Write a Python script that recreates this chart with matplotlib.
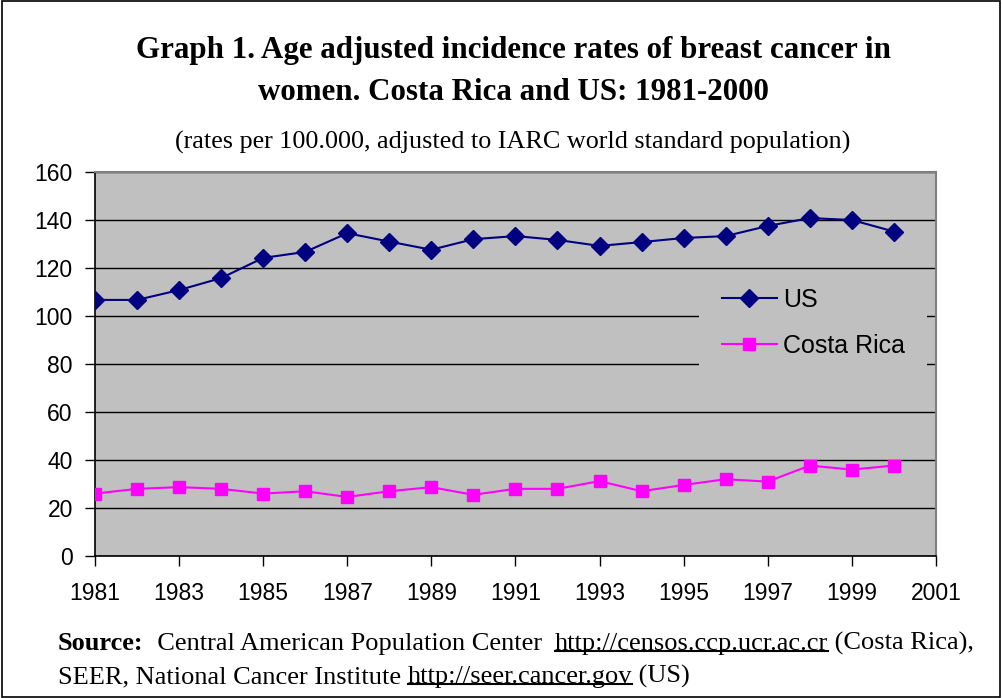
import matplotlib
matplotlib.use("Agg")
import matplotlib.pyplot as plt
from matplotlib.lines import Line2D
from matplotlib.patches import Rectangle

# ── Data ──
years = [1981, 1982, 1983, 1984, 1985, 1986, 1987, 1988, 1989, 1990,
         1991, 1992, 1993, 1994, 1995, 1996, 1997, 1998, 1999, 2000]
us_rates = [106.7, 106.7, 110.8, 115.8, 124.2, 126.7, 134.5, 131.0, 127.6, 132.0,
            133.3, 131.7, 129.2, 130.8, 132.5, 133.3, 137.5, 140.8, 140.0, 135.2]
cr_rates = [26.0, 28.0, 28.7, 28.0, 26.0, 27.0, 24.6, 27.0, 28.7, 25.5,
            28.0, 28.0, 31.2, 27.0, 29.6, 32.0, 31.0, 37.7, 36.0, 37.7]
x_ticks = list(range(1981, 2002, 2))
y_ticks = list(range(0, 161, 20))

SANS = "Liberation Sans"
SERIF = "Liberation Serif"

fig = plt.figure(figsize=(10.02, 6.98), dpi=100)
fig.patches.append(Rectangle((0.002, 0.002), 0.996, 0.996, transform=fig.transFigure,
                             fill=False, edgecolor="black", linewidth=1.2))

ax = fig.add_axes([0.0948, 0.2034, 0.8392, 0.5502])
ax.set_facecolor("#C0C0C0")

ax.plot(years, us_rates, color="#000080", linewidth=1.5, marker="D",
        markersize=9.5, label="US", zorder=3)
ax.plot(years, cr_rates, color="#FF00FF", linewidth=1.5, marker="s",
        markersize=8.5, label="Costa Rica", zorder=3)

ax.set_xlim(1981, 2001)
ax.set_ylim(0, 160)
ax.set_xticks(x_ticks)
ax.set_yticks(y_ticks)
ax.yaxis.grid(True, color="black", linewidth=1.0)
ax.set_axisbelow(True)
ax.tick_params(direction="out", length=7, width=1, labelsize=16.5)
ax.tick_params(axis="y", pad=9)
ax.tick_params(axis="x", pad=12)
for lab in ax.get_xticklabels() + ax.get_yticklabels():
    lab.set_family(SANS)
for side in ["top", "right"]:
    ax.spines[side].set_color("#808080")
    ax.spines[side].set_linewidth(1.5)
ax.spines["left"].set_linewidth(1.2)
ax.spines["bottom"].set_linewidth(1.2)

# legend background box covering the grid lines (Excel style)
ax.add_patch(Rectangle((0.718, 0.479), 0.272, 0.261, transform=ax.transAxes,
                       facecolor="#C0C0C0", edgecolor="none", zorder=1))
ax.legend(loc="upper left", bbox_to_anchor=(0.7455, 0.699), frameon=False,
          prop={"family": SANS, "size": 18}, handlelength=2.2, handletextpad=0.25,
          borderpad=0, borderaxespad=0, labelspacing=0.9)

# ── Titles ──
fig.text(0.512, 0.928, "Graph 1. Age adjusted incidence rates of breast cancer in",
         ha="center", va="center", family=SERIF, fontweight="bold", fontsize=22.3)
fig.text(0.512, 0.868, "women. Costa Rica and US: 1981-2000",
         ha="center", va="center", family=SERIF, fontweight="bold", fontsize=22.3)
fig.text(0.512, 0.796, "(rates per 100.000, adjusted to IARC world standard population)",
         ha="center", va="center", family=SERIF, fontsize=18.8)

# ── Source note with underlined links ──
line1 = [("Source:", "bold", False), ("  Central American Population Center  ", "normal", False),
         ("http://censos.ccp.ucr.ac.cr", "normal", True), (" (Costa Rica),", "normal", False)]
line2 = [("SEER, National Cancer Institute ", "normal", False),
         ("http://seer.cancer.gov", "normal", True), (" (US)", "normal", False)]

underlined = []
for parts, ypos in [(line1, 0.069), (line2, 0.021)]:
    prev = None
    for txt, weight, ul in parts:
        if prev is None:
            t = fig.text(0.058, ypos, txt, ha="left", va="baseline", family=SERIF,
                         fontweight=weight, fontsize=19)
        else:
            t = ax.annotate(txt, xy=(1, 0), xycoords=prev, ha="left", va="bottom",
                            family=SERIF, fontweight=weight, fontsize=19,
                            annotation_clip=False)
        if ul:
            underlined.append(t)
        prev = t

fig.canvas.draw()
for t in underlined:
    bb = t.get_window_extent()
    y = bb.y0 + 4
    fig.lines.append(Line2D([bb.x0, bb.x1], [y, y], transform=None,
                            color="black", linewidth=1.5))

fig.savefig("out.png", dpi=100)
